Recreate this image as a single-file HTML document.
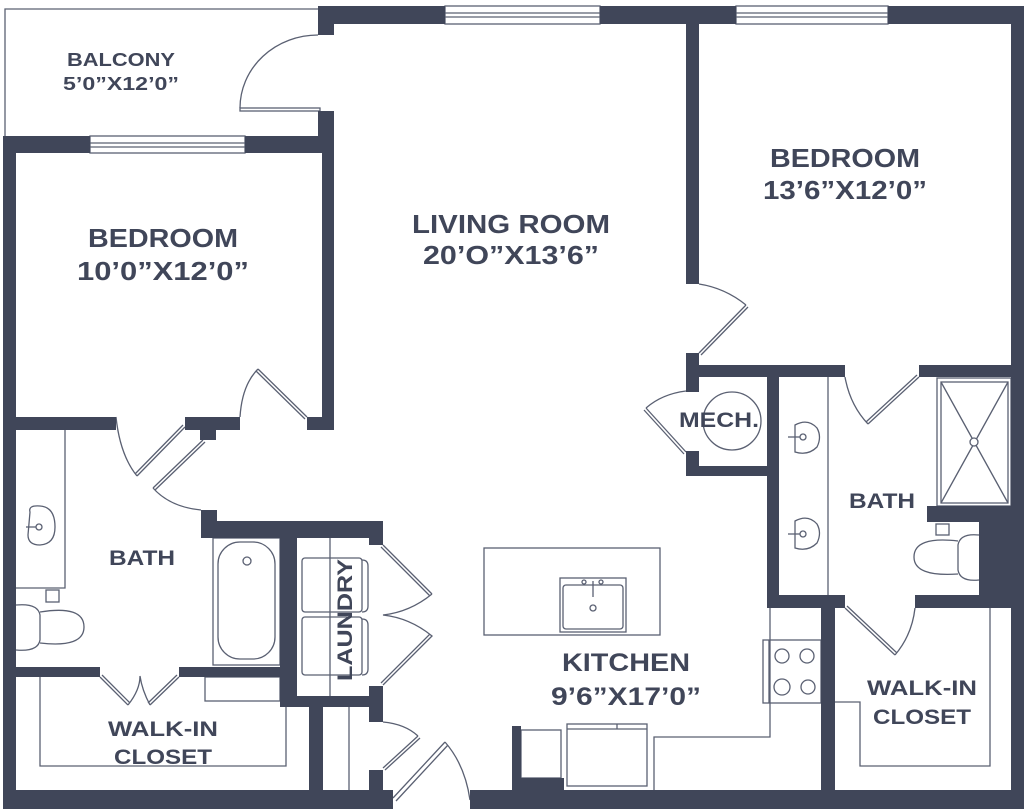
<!DOCTYPE html>
<html><head><meta charset="utf-8"><style>
html,body{margin:0;padding:0;background:#fff;}
svg{display:block;}
text{font-family:"Liberation Sans",sans-serif;font-weight:bold;fill:#404659;text-anchor:middle;}
</style></head><body>
<svg width="1024" height="809" viewBox="0 0 1024 809" xmlns="http://www.w3.org/2000/svg">
<g fill="none" stroke="#5a6072" stroke-width="1.3">
<!-- balcony -->
<path d="M5 136 V9 H318"/>
<!-- windows -->
<rect x="445" y="6" width="155" height="18"/><line x1="445" y1="13" x2="600" y2="13"/><line x1="445" y1="17" x2="600" y2="17"/>
<rect x="736" y="6" width="152" height="18"/><line x1="736" y1="13" x2="888" y2="13"/><line x1="736" y1="17" x2="888" y2="17"/>
<rect x="90" y="136" width="155" height="17"/><line x1="90" y1="143" x2="245" y2="143"/><line x1="90" y1="147" x2="245" y2="147"/>
<!-- doors -->
<rect x="240" y="108" width="80" height="3"/><path d="M240 108 A78 73 0 0 1 318 35"/>
<path d="M307 417 L258 369"/><path d="M305 419 L256 371"/><path d="M258 369 Q242 385 240 417"/>
<path d="M699 353 L746 305"/><path d="M701 355 L748 307"/><path d="M746 305 Q725 288 699 284"/>
<path d="M686 452 L646 408"/><path d="M684 454 L644 410"/><path d="M646 408 Q662 394 686 391"/>
<circle cx="732" cy="421" r="29"/>
<path d="M919 377 L868 424"/><path d="M917 375 L866 422"/><path d="M868 424 Q850 405 845 377"/>
<path d="M845 608 L895 655"/><path d="M847 606 L897 653"/><path d="M895 655 Q912 635 915 608"/>
<path d="M185 427 L137 476"/><path d="M183 425 L135 474"/><path d="M137 476 Q120 455 116 417"/>
<path d="M203 440 L153 488"/><path d="M205 442 L155 490"/><path d="M153 488 Q170 507 201 510"/>
<path d="M100 677 L128 705 M102 675 L130 703 M179 677 L150 705 M177 675 L148 703 M128 705 Q140 690 140 676 Q142 690 150 705"/>
<path d="M383 545 L432 594 M381 547 L430 596 M432 594 Q410 612 383 615 Q410 618 432 636 L383 685 M430 634 L381 683"/>
<path d="M383 768 L418 736 M385 770 L420 738 M418 736 Q405 724 383 722"/>
<path d="M393 798 L445 742 M396 801 L448 745 M445 742 Q465 765 470 800"/>
<!-- left bath -->
<path d="M65 430 V588 H16"/>
<path d="M30 512 Q28 505 40 506 Q55 507 55 527 Q55 544 40 545 Q28 545 28 535 Z"/><circle cx="39" cy="527" r="3"/><line x1="26" y1="527" x2="36" y2="527"/>
<rect x="46" y="590" width="13" height="12"/>
<path d="M16 605 Q38 603 40 615 V640 Q38 652 16 650"/><path d="M40 612 Q84 605 84 627 Q84 648 40 643"/>
<!-- tub -->
<rect x="213" y="538" width="67" height="127"/><rect x="218" y="542" width="57" height="117" rx="22"/><circle cx="247" cy="561" r="4"/>
<rect x="205" y="677" width="75" height="24"/>
<!-- laundry -->
<line x1="330" y1="538" x2="330" y2="696"/>
<rect x="302" y="558" width="60" height="54" rx="3"/><path d="M362 560 Q368 560 368 566 V606 Q368 612 362 612"/>
<rect x="302" y="617" width="60" height="58" rx="3"/><path d="M362 619 Q368 619 368 625 V669 Q368 675 362 675"/>
<line x1="349" y1="707" x2="349" y2="790"/>
<!-- left walk-in -->
<path d="M40 677 V766 H286 V707"/>
<!-- kitchen -->
<rect x="484" y="548" width="176" height="87"/>
<rect x="560" y="578" width="66" height="54"/><rect x="563" y="585" width="60" height="44" rx="3"/>
<line x1="593" y1="581" x2="593" y2="597"/><circle cx="584" cy="582" r="2"/><circle cx="601" cy="582" r="2"/><circle cx="593" cy="608" r="3"/>
<path d="M770 608 V737 H654 V790"/>
<rect x="763" y="640" width="58" height="63"/><line x1="769" y1="640" x2="769" y2="703"/>
<circle cx="782" cy="656" r="7"/><circle cx="807" cy="656" r="7"/><circle cx="782" cy="687" r="8"/><circle cx="808" cy="687" r="7"/>
<rect x="521" y="730" width="40" height="48"/>
<rect x="567" y="724" width="80" height="62"/><line x1="567" y1="729" x2="647" y2="729"/><line x1="617" y1="724" x2="617" y2="729"/>
<!-- right bath -->
<line x1="828" y1="377" x2="828" y2="595"/>
<rect x="937" y="378" width="74" height="128"/><rect x="941" y="382" width="67" height="121"/>
<path d="M941 382 L1008 503 M1008 382 L941 503"/><circle cx="974" cy="442" r="4" fill="#fff"/>
<path d="M795 425 Q808 418 817 428 Q822 437 817 447 Q808 456 795 452 Z"/><circle cx="803" cy="437" r="3"/><line x1="788" y1="437" x2="800" y2="437"/>
<path d="M795 521 Q808 514 817 524 Q822 533 817 543 Q808 552 795 548 Z"/><circle cx="803" cy="534" r="3"/><line x1="788" y1="534" x2="800" y2="534"/>
<rect x="936" y="524" width="13" height="11"/>
<path d="M979 535 Q960 533 958 545 V570 Q960 582 979 580"/><path d="M958 541 Q914 536 914 557 Q914 577 958 574"/>
<!-- right walk-in -->
<path d="M835 702 H860 V766 H990 V608"/>
</g>
<g fill="#404659">
<!-- top walls -->
<rect x="318" y="6" width="127" height="18"/><rect x="318" y="6" width="16" height="29"/>
<rect x="600" y="6" width="136" height="18"/>
<rect x="888" y="6" width="136" height="18"/>
<rect x="1011" y="6" width="13" height="803"/>
<!-- living/bedroom2 -->
<rect x="686" y="18" width="13" height="266"/>
<rect x="686" y="353" width="13" height="39"/>
<rect x="686" y="365" width="159" height="12"/><rect x="919" y="365" width="92" height="12"/>
<rect x="686" y="451" width="13" height="25"/><rect x="686" y="466" width="93" height="10"/>
<rect x="767" y="365" width="12" height="243"/><rect x="767" y="595" width="78" height="13"/>
<rect x="821" y="595" width="14" height="195"/>
<rect x="915" y="595" width="96" height="13"/>
<rect x="927" y="506" width="84" height="16"/><rect x="979" y="506" width="32" height="102"/>
<!-- left bedroom -->
<rect x="318" y="111" width="16" height="42"/>
<rect x="3" y="136" width="87" height="17"/><rect x="245" y="136" width="89" height="17"/>
<rect x="322" y="136" width="12" height="294"/>
<rect x="3" y="136" width="13" height="673"/>
<rect x="3" y="417" width="113" height="13"/><rect x="185" y="417" width="55" height="13"/><rect x="200" y="417" width="16" height="23"/>
<rect x="307" y="417" width="27" height="13"/>
<!-- bath/laundry -->
<rect x="201" y="510" width="16" height="28"/><rect x="201" y="521" width="182" height="17"/>
<rect x="369" y="521" width="14" height="24"/>
<rect x="280" y="521" width="17" height="186"/>
<rect x="16" y="667" width="84" height="10"/><rect x="179" y="667" width="101" height="10"/>
<rect x="280" y="696" width="103" height="11"/><rect x="369" y="686" width="14" height="36"/>
<rect x="309" y="696" width="14" height="94"/>
<rect x="369" y="770" width="14" height="39"/>
<!-- bottom -->
<rect x="3" y="790" width="390" height="19"/>
<rect x="470" y="790" width="554" height="19"/>
<rect x="512" y="726" width="9" height="64"/><rect x="512" y="778" width="52" height="12"/>
</g>
<text x="121" y="66" font-size="18" textLength="108" lengthAdjust="spacingAndGlyphs">BALCONY</text>
<text x="121" y="90" font-size="18" textLength="116" lengthAdjust="spacingAndGlyphs">5’0”X12’0”</text>
<text x="163" y="247" font-size="26" textLength="150" lengthAdjust="spacingAndGlyphs">BEDROOM</text>
<text x="163" y="280" font-size="26" textLength="172" lengthAdjust="spacingAndGlyphs">10’0”X12’0”</text>
<text x="511" y="233" font-size="26" textLength="198" lengthAdjust="spacingAndGlyphs">LIVING ROOM</text>
<text x="511" y="264" font-size="26" textLength="176" lengthAdjust="spacingAndGlyphs">20’O”X13’6”</text>
<text x="845" y="167" font-size="26" textLength="150" lengthAdjust="spacingAndGlyphs">BEDROOM</text>
<text x="845" y="199" font-size="26" textLength="164" lengthAdjust="spacingAndGlyphs">13’6”X12’0”</text>
<text x="719" y="427" font-size="21" textLength="80" lengthAdjust="spacingAndGlyphs">MECH.</text>
<text x="882" y="508" font-size="21" textLength="66" lengthAdjust="spacingAndGlyphs">BATH</text>
<text x="142" y="565" font-size="21" textLength="66" lengthAdjust="spacingAndGlyphs">BATH</text>
<text x="0" y="0" font-size="21" textLength="122" lengthAdjust="spacingAndGlyphs" transform="translate(352,620) rotate(-90)">LAUNDRY</text>
<text x="626" y="671" font-size="25" textLength="128" lengthAdjust="spacingAndGlyphs">KITCHEN</text>
<text x="626" y="705" font-size="25" textLength="150" lengthAdjust="spacingAndGlyphs">9’6”X17’0”</text>
<text x="163" y="736" font-size="21" textLength="110" lengthAdjust="spacingAndGlyphs">WALK-IN</text>
<text x="163" y="764" font-size="21" textLength="98" lengthAdjust="spacingAndGlyphs">CLOSET</text>
<text x="922" y="695" font-size="21" textLength="110" lengthAdjust="spacingAndGlyphs">WALK-IN</text>
<text x="922" y="724" font-size="21" textLength="98" lengthAdjust="spacingAndGlyphs">CLOSET</text>
</svg>
</body></html>
